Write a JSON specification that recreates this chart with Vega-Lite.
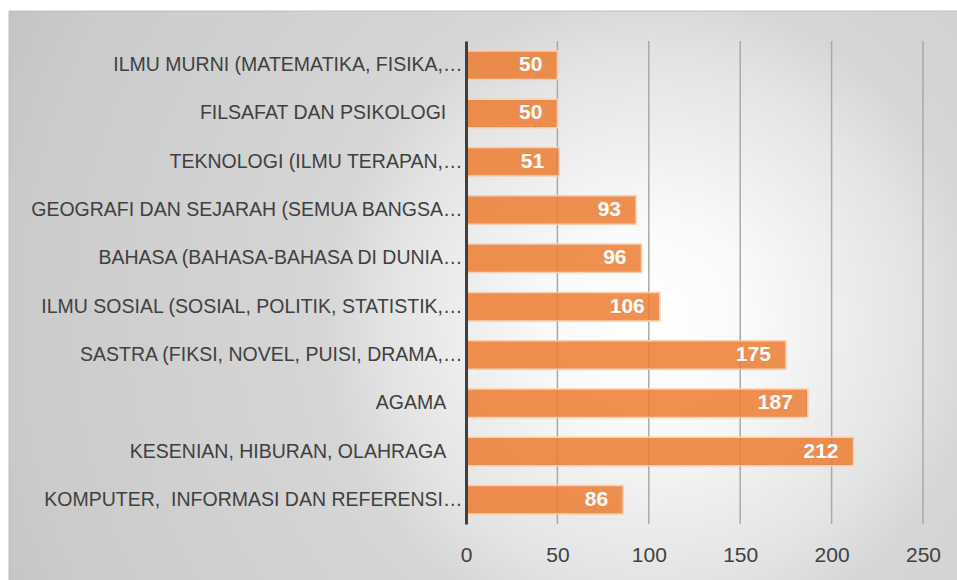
{
  "$schema": "https://vega.github.io/schema/vega-lite/v6.json",
  "width": 457,
  "height": 483,
  "padding": {"left": 8, "top": 10, "right": 0, "bottom": 0},
  "autosize": {"type": "pad"},
  "background": "white",
  "config": {"view": {"stroke": null}, "font": "Liberation Sans"},
  "datasets": {
    "books": [
      {"kategori": "ILMU MURNI (MATEMATIKA, FISIKA,…", "jumlah": 50},
      {"kategori": "FILSAFAT DAN PSIKOLOGI\u00a0\u00a0\u00a0\u200b", "jumlah": 50},
      {"kategori": "TEKNOLOGI (ILMU TERAPAN,…", "jumlah": 51},
      {"kategori": "GEOGRAFI DAN SEJARAH (SEMUA BANGSA…", "jumlah": 93},
      {"kategori": "BAHASA (BAHASA-BAHASA DI DUNIA…", "jumlah": 96},
      {"kategori": "ILMU SOSIAL (SOSIAL, POLITIK, STATISTIK,…", "jumlah": 106},
      {"kategori": "SASTRA (FIKSI, NOVEL, PUISI, DRAMA,…", "jumlah": 175},
      {"kategori": "AGAMA\u00a0\u00a0\u00a0\u200b", "jumlah": 187},
      {"kategori": "KESENIAN, HIBURAN, OLAHRAGA\u00a0\u00a0\u00a0\u200b", "jumlah": 212},
      {"kategori": "KOMPUTER,\u00a0 INFORMASI DAN REFERENSI…", "jumlah": 86}
    ],
    "grid": [{"v": 50}, {"v": 100}, {"v": 150}, {"v": 200}, {"v": 250}]
  },
  "layer": [
    {
      "data": {"values": [{"bg": 1}]},
      "mark": {
        "type": "rect",
        "stroke": "#BDBDBD",
        "strokeWidth": 1,
        "fill": {
          "gradient": "radial",
          "x1": 0.677, "y1": 0.526, "r1": 0,
          "x2": 0.677, "y2": 0.526, "r2": 0.74,
          "stops": [
            {"offset": 0, "color": "#ffffff"},
            {"offset": 0.14, "color": "#fafafa"},
            {"offset": 0.37, "color": "#e4e4e4"},
            {"offset": 0.47, "color": "#d6d6d6"},
            {"offset": 0.9, "color": "#cbcbcb"},
            {"offset": 1, "color": "#c5c5c5"}
          ]
        }
      },
      "encoding": {
        "x": {"datum": -250, "type": "quantitative", "scale": {"domain": [0, 250], "nice": false, "zero": false}},
        "x2": {"datum": 269.5},
        "y": {"datum": 1.062, "type": "quantitative", "scale": {"domain": [0, 1], "nice": false, "zero": false}, "axis": null},
        "y2": {"datum": -0.12}
      }
    },
    {
      "data": {"name": "books"},
      "layer": [
        {
          "data": {"name": "grid"},
          "mark": {"type": "rule", "color": "#A9A9A9", "strokeWidth": 1.5},
          "encoding": {
            "x": {"field": "v", "type": "quantitative", "scale": {"domain": [0, 250], "nice": false, "zero": false}}
          }
        },
        {
          "mark": {"type": "bar", "fill": "#ED7D31", "fillOpacity": 0.85, "stroke": "#F9CDAE", "strokeWidth": 1.5},
          "encoding": {
            "y": {
              "field": "kategori", "type": "nominal", "sort": null,
              "scale": {"paddingInner": 0.41, "paddingOuter": 0.205},
              "axis": {
                "orient": "left", "title": null, "ticks": false, "labelPadding": 4,
                "labelFontSize": 19.5, "labelColor": "#404040", "labelLimit": 0,
                "domainColor": "#404040", "domainWidth": 3, "zindex": 1
              }
            },
            "x": {
              "field": "jumlah", "type": "quantitative",
              "scale": {"domain": [0, 250], "nice": false, "zero": false},
              "axis": {
                "title": null, "grid": false, "domain": false, "ticks": false,
                "values": [0, 50, 100, 150, 200, 250], "labelFlush": false,
                "labelFontSize": 21, "labelColor": "#404040", "labelPadding": 20, "zindex": 1
              }
            }
          }
        },
        {
          "mark": {"type": "text", "align": "right", "baseline": "middle", "dx": -15, "fontSize": 21, "fontWeight": "bold", "color": "#ffffff"},
          "encoding": {
            "y": {"field": "kategori", "type": "nominal", "sort": null},
            "x": {"field": "jumlah", "type": "quantitative"},
            "text": {"field": "jumlah", "type": "quantitative"}
          }
        }
      ]
    }
  ],
  "resolve": {"scale": {"y": "independent"}}
}
